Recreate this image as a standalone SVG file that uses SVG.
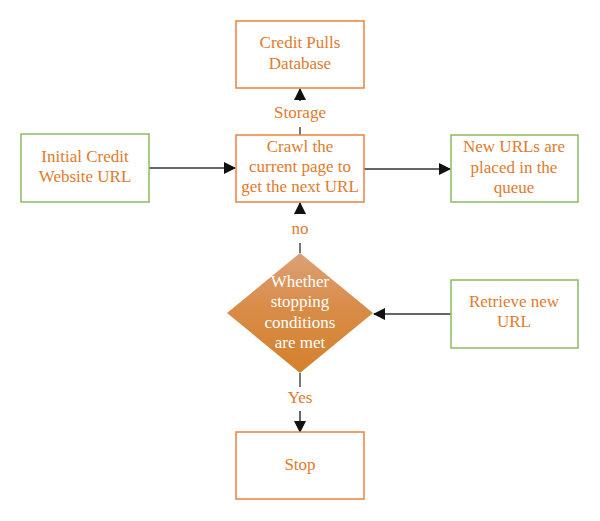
<svg xmlns="http://www.w3.org/2000/svg" width="600" height="521" viewBox="0 0 600 521">
<style>
.o{fill:#fff;stroke:#e8843f;stroke-width:1.5}
.g{fill:#fff;stroke:#8dbb5f;stroke-width:1.5}
.t{font-family:"Liberation Serif",serif;font-size:17px;fill:#e07b2c;text-anchor:middle}
.w{fill:#fff}
.c{stroke:#333;stroke-width:1.5;fill:none}
.cg{stroke:#777;stroke-width:2;fill:none}
</style>
<defs>
<marker id="ah" markerWidth="12" markerHeight="12" refX="11" refY="6" orient="auto" markerUnits="userSpaceOnUse">
<path d="M0,0 L12,6 L0,12 z" fill="#111"/>
</marker>
<linearGradient id="dg" x1="0" y1="0" x2="0" y2="1">
<stop offset="0" stop-color="#dca078"/>
<stop offset="0.45" stop-color="#d98c48"/>
<stop offset="1" stop-color="#d3812c"/>
</linearGradient>
</defs>
<g id="connectors">
<line class="c" x1="149" y1="168" x2="235" y2="168" marker-end="url(#ah)"/>
<line class="c" x1="364" y1="169" x2="450" y2="169" marker-end="url(#ah)"/>
<line class="c" x1="451" y1="314" x2="374" y2="314" marker-end="url(#ah)"/>
<line class="cg" x1="300" y1="135" x2="300" y2="127"/>
<line class="c" x1="300" y1="101" x2="300" y2="89" marker-end="url(#ah)"/>
<text class="t" x="300" y="118">Storage</text>
<line class="cg" x1="300" y1="253" x2="300" y2="243"/>
<line class="c" x1="300" y1="214" x2="300" y2="203" marker-end="url(#ah)"/>
<text class="t" x="300" y="234">no</text>
<line class="cg" x1="300" y1="373" x2="300" y2="387"/>
<line class="c" x1="300" y1="411" x2="300" y2="432" marker-end="url(#ah)"/>
<text class="t" x="300" y="403">Yes</text>
</g>
<g id="db">
<rect class="o" x="236" y="21" width="128" height="67"/>
<text class="t" x="300" y="48">Credit Pulls</text>
<text class="t" x="300" y="69">Database</text>
</g>
<g id="crawl">
<rect class="o" x="236" y="135" width="128" height="67"/>
<text class="t" x="300" y="152">Crawl the</text>
<text class="t" x="300" y="172">current page to</text>
<text class="t" x="300" y="192">get the next URL</text>
</g>
<g id="initial">
<rect class="g" x="21" y="134" width="128" height="68"/>
<text class="t" x="85" y="162">Initial Credit</text>
<text class="t" x="85" y="182">Website URL</text>
</g>
<g id="queue">
<rect class="g" x="451" y="135" width="127" height="67"/>
<text class="t" x="514" y="152">New URLs are</text>
<text class="t" x="514" y="173">placed in the</text>
<text class="t" x="514" y="193">queue</text>
</g>
<g id="retrieve">
<rect class="g" x="451" y="280" width="127" height="68"/>
<text class="t" x="514" y="307">Retrieve new</text>
<text class="t" x="514" y="327">URL</text>
</g>
<g id="decision">
<polygon points="300,253 373,313 300,373 227,313" fill="url(#dg)"/>
<text class="t w" x="300" y="287">Whether</text>
<text class="t w" x="300" y="307">stopping</text>
<text class="t w" x="300" y="328">conditions</text>
<text class="t w" x="300" y="348">are met</text>
</g>
<g id="stop">
<rect class="o" x="236" y="432" width="128" height="67"/>
<text class="t" x="300" y="470">Stop</text>
</g>
</svg>
